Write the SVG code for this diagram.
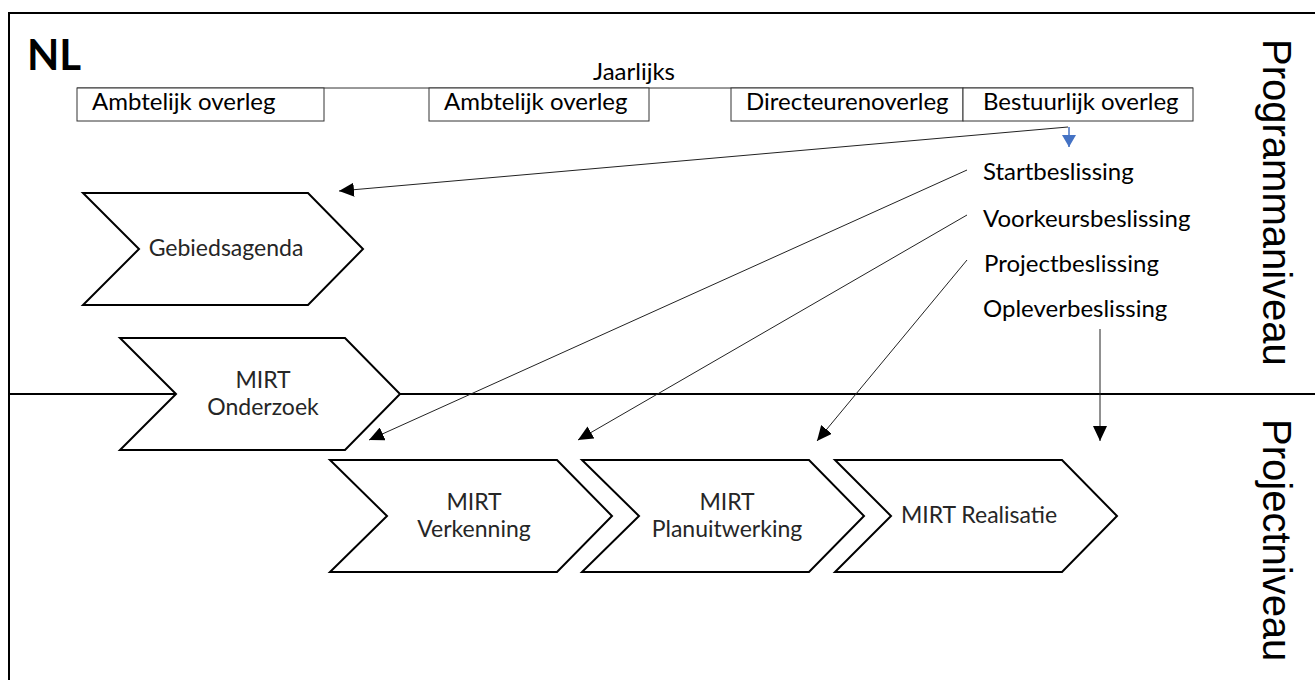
<svg xmlns="http://www.w3.org/2000/svg" width="1315" height="680" viewBox="0 0 1315 680">
  <defs>
    <style>
      .frame { stroke: #000; stroke-width: 2; fill: none; }
      .cell { fill: #fff; stroke: #333; stroke-width: 1; }
      .lbl { font-family: Lato, "Liberation Sans", sans-serif; font-size: 24px; fill: #000; }
      .chev { fill: #fff; stroke: #000; stroke-width: 2; stroke-linejoin: miter; }
      .ctext { font-family: Lato, "Liberation Sans", sans-serif; font-size: 23px; fill: #262626; text-anchor: middle; }
      .level { font-family: "Liberation Sans", Arial, sans-serif; font-size: 40px; fill: #000; }
      .conn { stroke: #222; stroke-width: 1; fill: none; marker-end: url(#arrow); }
    </style>
    <marker id="arrow" markerUnits="userSpaceOnUse" markerWidth="16" markerHeight="14" refX="15" refY="7" orient="auto">
      <path d="M0,0 L15,7 L0,14 Z" fill="#000"/>
    </marker>
    <marker id="arrowBlue" markerUnits="userSpaceOnUse" markerWidth="14" markerHeight="14" refX="12" refY="7" orient="auto">
      <path d="M0,0 L12,7 L0,14 Z" fill="#4472C4"/>
    </marker>
  </defs>

  <!-- outer frame and level separator -->
  <g id="frame">
    <line class="frame" x1="9" y1="13" x2="1315" y2="13"/>
    <line class="frame" x1="9" y1="12" x2="9" y2="680"/>
    <line class="frame" x1="9" y1="394" x2="1315" y2="394"/>
  </g>

  <g id="title">
    <text x="27" y="70" font-family="Lato, 'Liberation Sans', sans-serif" font-weight="bold" font-size="42" fill="#000">NL</text>
  </g>

  <!-- yearly meeting row -->
  <g id="jaarlijks">
    <text class="lbl" x="634" y="80" text-anchor="middle">Jaarlijks</text>
    <line x1="77" y1="88" x2="1193" y2="88" stroke="#333" stroke-width="1"/>
  </g>
  <g id="overleg-1">
    <rect class="cell" x="77" y="88" width="247" height="33"/>
    <text class="lbl" x="92" y="110">Ambtelijk overleg</text>
  </g>
  <g id="overleg-2">
    <rect class="cell" x="429" y="88" width="220" height="33"/>
    <text class="lbl" x="444" y="110">Ambtelijk overleg</text>
  </g>
  <g id="overleg-3">
    <rect class="cell" x="731" y="88" width="232" height="33"/>
    <text class="lbl" x="746" y="110">Directeurenoverleg</text>
  </g>
  <g id="overleg-4">
    <rect class="cell" x="963" y="88" width="230" height="33"/>
    <text class="lbl" x="983" y="110">Bestuurlijk overleg</text>
  </g>

  <!-- decisions -->
  <g id="decisions">
    <text class="lbl" x="983" y="180">Startbeslissing</text>
    <text class="lbl" x="983" y="227">Voorkeursbeslissing</text>
    <text class="lbl" x="984" y="272">Projectbeslissing</text>
    <text class="lbl" x="983" y="317">Opleverbeslissing</text>
  </g>

  <!-- phase chevrons -->
  <g id="gebiedsagenda">
    <polygon class="chev" points="83,193 308,193 363,249 308,305 83,305 139,249"/>
    <text class="ctext" x="226" y="256">Gebiedsagenda</text>
  </g>
  <g id="mirt-onderzoek">
    <polygon class="chev" points="120,338 345,338 400,394 345,450 120,450 176,394"/>
    <text class="ctext" x="263" y="388">MIRT</text>
    <text class="ctext" x="263" y="415">Onderzoek</text>
  </g>
  <g id="mirt-verkenning">
    <polygon class="chev" points="330,460 557,460 612,516 557,572 330,572 387,516"/>
    <text class="ctext" x="474" y="510">MIRT</text>
    <text class="ctext" x="474" y="537">Verkenning</text>
  </g>
  <g id="mirt-planuitwerking">
    <polygon class="chev" points="582,460 809,460 864,516 809,572 582,572 639,516"/>
    <text class="ctext" x="727" y="510">MIRT</text>
    <text class="ctext" x="727" y="537">Planuitwerking</text>
  </g>
  <g id="mirt-realisatie">
    <polygon class="chev" points="835,460 1062,460 1117,516 1062,572 835,572 891,516"/>
    <text class="ctext" x="979" y="523">MIRT Realisatie</text>
  </g>

  <!-- level labels -->
  <g id="levels">
    <text class="level" transform="translate(1263,39) rotate(90)">Programmaniveau</text>
    <text class="level" transform="translate(1263,419) rotate(90)">Projectniveau</text>
  </g>

  <!-- connectors -->
  <g id="connectors">
    <line class="conn" x1="1068" y1="127" x2="339" y2="191"/>
    <line x1="1069" y1="127" x2="1069" y2="147" stroke="#4472C4" stroke-width="1.5" marker-end="url(#arrowBlue)"/>
    <line class="conn" x1="967" y1="170" x2="369" y2="440"/>
    <line class="conn" x1="967" y1="215" x2="578" y2="440"/>
    <line class="conn" x1="967" y1="260" x2="817" y2="441"/>
    <line class="conn" x1="1100" y1="329" x2="1100" y2="441"/>
  </g>
</svg>
